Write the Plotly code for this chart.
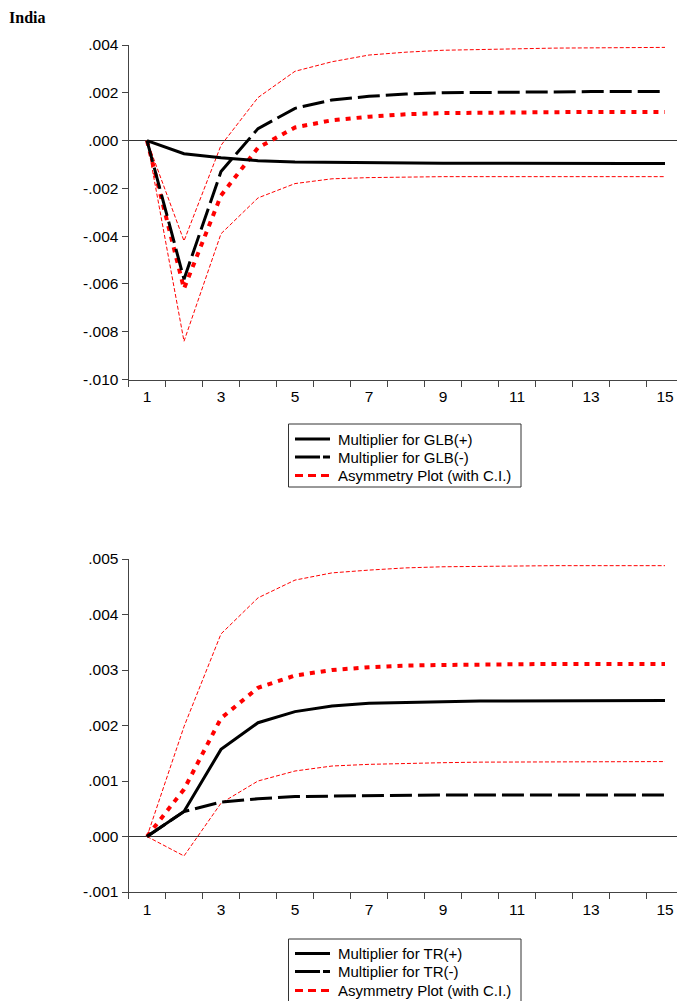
import plotly.graph_objects as go

# Horizon (periods)
periods = list(range(1, 16))

# Panel 1: GLB
glb_pos = [0, -0.00055, -0.00072, -0.00084, -0.0009, -0.00092, -0.00093, -0.00094,
           -0.00095, -0.00095, -0.00096, -0.00096, -0.00096, -0.00096, -0.00096]
glb_neg = [0, -0.0058, -0.0013, 0.0005, 0.00135, 0.0017, 0.00185, 0.00195,
           0.002, 0.00202, 0.00204, 0.00205, 0.00205, 0.00205, 0.00205]
glb_asym = [0, -0.0062, -0.0023, -0.0003, 0.00055, 0.00085, 0.001, 0.0011,
            0.00115, 0.00117, 0.00119, 0.0012, 0.0012, 0.0012, 0.0012]
glb_upper = [0, -0.0042, -0.0002, 0.0018, 0.0029, 0.0033, 0.00358, 0.0037,
             0.00378, 0.00382, 0.00385, 0.00387, 0.00388, 0.00389, 0.0039]
glb_lower = [0, -0.0084, -0.0039, -0.0024, -0.0018, -0.0016, -0.00155, -0.00152,
             -0.00151, -0.00151, -0.00151, -0.00151, -0.00151, -0.00151, -0.00151]

# Panel 2: TR
tr_pos = [0, 0.00045, 0.00157, 0.00205, 0.00225, 0.00235, 0.0024, 0.00242,
          0.00243, 0.00244, 0.00244, 0.00244, 0.00245, 0.00245, 0.00245]
tr_neg = [0, 0.00045, 0.00062, 0.00068, 0.00072, 0.00073, 0.00074, 0.00074,
          0.00075, 0.00075, 0.00075, 0.00075, 0.00075, 0.00075, 0.00075]
tr_asym = [0, 0.00085, 0.00213, 0.00268, 0.0029, 0.003, 0.00305, 0.00308,
           0.00309, 0.0031, 0.0031, 0.00311, 0.00311, 0.00311, 0.00311]
tr_upper = [0, 0.00198, 0.00365, 0.0043, 0.00462, 0.00475, 0.0048, 0.00484,
            0.00486, 0.00487, 0.00487, 0.00488, 0.00488, 0.00488, 0.00488]
tr_lower = [0, -0.00035, 0.0006, 0.001, 0.00118, 0.00127, 0.0013, 0.00132,
            0.00133, 0.00134, 0.00134, 0.00135, 0.00135, 0.00135, 0.00135]

# Tick labels
x_tickvals = [1, 3, 5, 7, 9, 11, 13, 15]
x_ticktext = ["1", "3", "5", "7", "9", "11", "13", "15"]
y1_tickvals = [-0.010, -0.008, -0.006, -0.004, -0.002, 0.0, 0.002, 0.004]
y1_ticktext = ["-.010", "-.008", "-.006", "-.004", "-.002", ".000", ".002", ".004"]
y2_tickvals = [-0.001, 0.0, 0.001, 0.002, 0.003, 0.004, 0.005]
y2_ticktext = ["-.001", ".000", ".001", ".002", ".003", ".004", ".005"]

# Legend labels
legend1_labels = ["Multiplier for GLB(+)", "Multiplier for GLB(-)", "Asymmetry Plot (with C.I.)"]
legend2_labels = ["Multiplier for TR(+)", "Multiplier for TR(-)", "Asymmetry Plot (with C.I.)"]

# page has an 8px body margin, so the figure is shrunk by that much
OFF = 8
W, H = 685 - OFF, 1001 - OFF
FONT = "Liberation Sans, Arial, sans-serif"
RED = "#ff0000"


def px(x):
    return (x - OFF) / W


def py(y):
    return 1 - (y - OFF) / H


def add_panel(fig, pos, neg, asym, upper, lower, xa, ya):
    # CI bands (thin red dashed)
    for band in (upper, lower):
        fig.add_trace(go.Scatter(
            x=periods, y=band, mode="lines", xaxis=xa, yaxis=ya,
            line=dict(color=RED, width=1, dash="4px,2px"),
            showlegend=False, hoverinfo="skip",
        ))
    fig.add_trace(go.Scatter(
        x=periods, y=asym, mode="lines", xaxis=xa, yaxis=ya,
        line=dict(color=RED, width=4, dash="5px,6px"), showlegend=False,
    ))
    fig.add_trace(go.Scatter(
        x=periods, y=neg, mode="lines", xaxis=xa, yaxis=ya,
        line=dict(color="black", width=3, dash="22px,6px"), showlegend=False,
    ))
    fig.add_trace(go.Scatter(
        x=periods, y=pos, mode="lines", xaxis=xa, yaxis=ya,
        line=dict(color="black", width=3), showlegend=False,
    ))


def legend_box(labels, top, rows):
    """Boxed legend like the EViews one (drawn in paper coordinates)."""
    shapes = [dict(type="rect", xref="paper", yref="paper",
                   x0=px(288.5), x1=px(521), y0=py(top), y1=py(top + 63),
                   line=dict(color="#333", width=1), fillcolor="white", layer="above")]
    styles = [dict(color="black", width=3),
              dict(color="black", width=3, dash="25px,3px,7px,30px"),
              dict(color=RED, width=3, dash="8px,5px")]
    anns = []
    for lab, ry, st in zip(labels, rows, styles):
        shapes.append(dict(type="line", xref="paper", yref="paper",
                           x0=px(295), x1=px(330), y0=py(ry), y1=py(ry),
                           line=st, layer="above"))
        anns.append(dict(text=lab, x=px(337), y=py(ry), xref="paper", yref="paper",
                         xanchor="left", yanchor="middle", showarrow=False, borderpad=0,
                         font=dict(family=FONT, size=15, color="black")))
    return shapes, anns


fig = go.Figure()
add_panel(fig, glb_pos, glb_neg, glb_asym, glb_upper, glb_lower, "x", "y")
add_panel(fig, tr_pos, tr_neg, tr_asym, tr_upper, tr_lower, "x2", "y2")

xdom = [px(128.5), px(683.5)]
xcommon = dict(
    range=[0.5, 15.5], tickvals=x_tickvals, ticktext=x_ticktext,
    ticks="outside", ticklen=3, tickcolor="rgba(0,0,0,0)",
    minor=dict(ticks="outside", tick0=0.5, dtick=1, ticklen=6, tickcolor="#444"),
    showline=True, linecolor="#444", linewidth=1, showgrid=False, zeroline=False,
    tickfont=dict(family=FONT, size=15.5, color="black"), domain=xdom, automargin=False,
)
ycommon = dict(
    ticks="outside", ticklen=6, tickcolor="#444",
    showline=True, linecolor="#444", linewidth=1, showgrid=False,
    zeroline=True, zerolinecolor="#333", zerolinewidth=1,
    tickfont=dict(family=FONT, size=15.5, color="black"), automargin=False,
)

s1, a1 = legend_box(legend1_labels, 424, [439, 457, 475.5])
s2, a2 = legend_box(legend2_labels, 939, [953.5, 971.5, 990.5])

title_ann = dict(text="<b>India</b>", x=0, y=1, xref="paper", yref="paper",
                 xanchor="left", yanchor="top", showarrow=False, borderpad=0,
                 font=dict(family="Liberation Serif, Times New Roman, serif", size=16, color="black"))

fig.update_layout(
    width=W, height=H,
    margin=dict(l=0, r=0, t=0, b=0),
    paper_bgcolor="white", plot_bgcolor="white",
    showlegend=False,
    xaxis=dict(anchor="y", **xcommon),
    yaxis=dict(anchor="x", range=[-0.010, 0.004], tickvals=y1_tickvals, ticktext=y1_ticktext,
               domain=[py(379.5), py(45)], **ycommon),
    xaxis2=dict(anchor="y2", **xcommon),
    yaxis2=dict(anchor="x2", range=[-0.001, 0.005], tickvals=y2_tickvals, ticktext=y2_ticktext,
                domain=[py(892), py(559)], **ycommon),
    shapes=s1 + s2,
    annotations=[title_ann] + a1 + a2,
)

fig.write_html("out.html")
